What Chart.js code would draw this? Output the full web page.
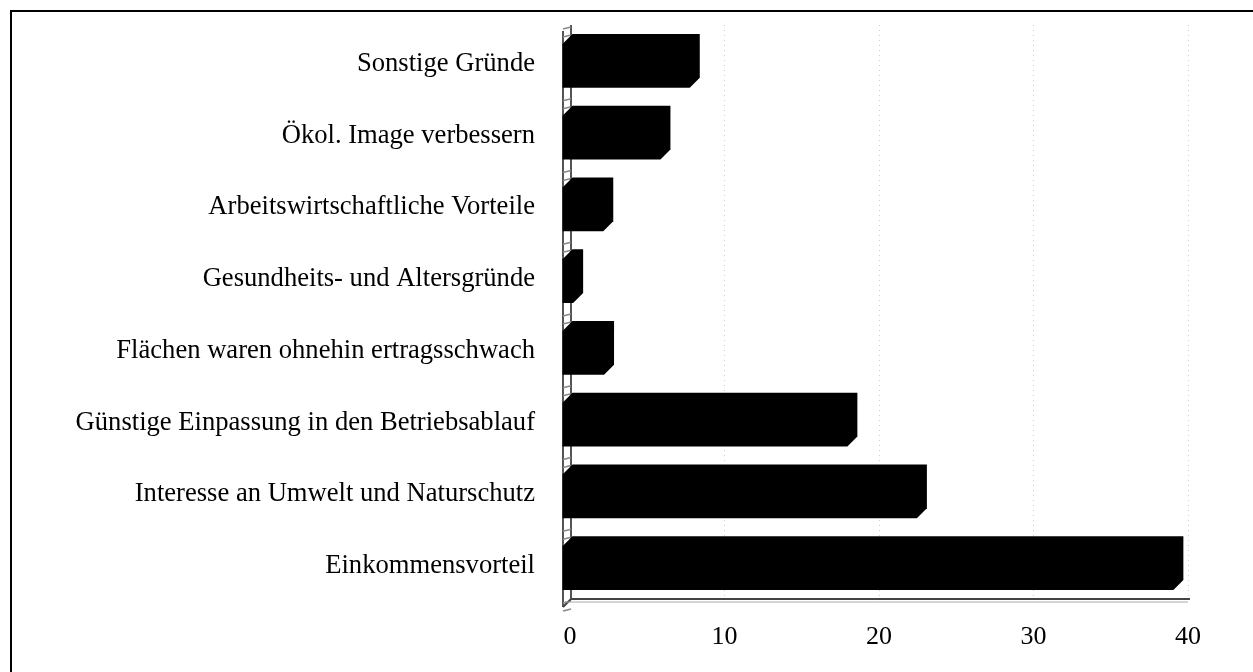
<!DOCTYPE html>
<html lang="de">
<head>
<meta charset="UTF-8">
<title>Gründe</title>
<script src="https://cdn.jsdelivr.net/npm/chart.js"></script>
<style>
    html, body { margin: 0; padding: 0; background: #fff; }
    .wrap { position: relative; width: 1253px; height: 672px; overflow: hidden; }
    .frame { position: absolute; left: 10px; top: 10px; right: -10px; bottom: -10px;
             border-left: 2px solid #000; border-top: 2px solid #000; pointer-events: none; }
    canvas { position: absolute; left: 0; top: 0; }
</style>
</head>
<body>
<div class="wrap">
    <canvas id="chart" width="1253" height="672"></canvas>
    <div class="frame"></div>
</div>
<script>
// data
const categories = [
    'Sonstige Gründe',
    'Ökol. Image verbessern',
    'Arbeitswirtschaftliche Vorteile',
    'Gesundheits- und Altersgründe',
    'Flächen waren ohnehin ertragsschwach',
    'Günstige Einpassung in den Betriebsablauf',
    'Interesse an Umwelt und Naturschutz',
    'Einkommensvorteil'
];
const values = [8.4, 6.5, 2.8, 0.85, 2.85, 18.6, 23.1, 39.7];
const xTicks = [0, 10, 20, 30, 40];

const serif = '"Liberation Serif", "Times New Roman", serif';

// draws the pseudo-3D bars, the left wall and the floor
const bars3d = {
    id: 'bars3d',
    beforeDatasetsDraw(chart) {
        const ctx = chart.ctx;
        const a = chart.chartArea;
        const y = chart.scales.y;
        const step = y.getPixelForValue(1) - y.getPixelForValue(0);
        ctx.save();
        // wall (ladder)
        ctx.strokeStyle = '#555';
        ctx.lineWidth = 2;
        ctx.beginPath();
        ctx.moveTo(a.left - 7, a.top + 6); ctx.lineTo(a.left - 7, a.bottom + 8);
        ctx.moveTo(a.left + 1, a.top); ctx.lineTo(a.left + 1, a.bottom);
        ctx.stroke();
        ctx.strokeStyle = '#888';
        ctx.lineWidth = 1.5;
        for (let i = 0; i <= categories.length; i++) {
            const yy = y.getPixelForValue(i) - step / 2;
            ctx.beginPath();
            ctx.moveTo(a.left - 7, yy + 4); ctx.lineTo(a.left + 1, yy + 2);
            ctx.moveTo(a.left - 7, yy + 12); ctx.lineTo(a.left + 1, yy + 10);
            ctx.stroke();
        }
        // floor
        ctx.strokeStyle = '#444';
        ctx.lineWidth = 2;
        ctx.beginPath();
        ctx.moveTo(a.left - 7, a.bottom + 8);
        ctx.lineTo(a.left + 1, a.bottom);
        ctx.lineTo(a.right + 2, a.bottom);
        ctx.stroke();
        ctx.strokeStyle = '#aaa';
        ctx.lineWidth = 1;
        ctx.beginPath();
        ctx.moveTo(a.left - 5, a.bottom + 3);
        ctx.lineTo(a.right, a.bottom + 3);
        ctx.stroke();
        ctx.restore();
    },
    afterDatasetsDraw(chart) {
        const ctx = chart.ctx;
        const meta = chart.getDatasetMeta(0);
        ctx.save();
        ctx.fillStyle = '#000';
        meta.data.forEach(bar => {
            const p = bar.getProps(['x', 'y', 'base', 'height'], true);
            const top = p.y - p.height / 2;
            const bot = p.y + p.height / 2;
            const left = p.base - 8;
            const right = p.x;
            const c = Math.min(10, (right - left) / 2);
            ctx.beginPath();
            ctx.moveTo(left, top + c);
            ctx.lineTo(left + c, top);
            ctx.lineTo(right, top);
            ctx.lineTo(right, bot - c);
            ctx.lineTo(right - c, bot);
            ctx.lineTo(left, bot);
            ctx.closePath();
            ctx.fill();
        });
        ctx.restore();
    }
};

new Chart(document.getElementById('chart'), {
    type: 'bar',
    data: {
        labels: categories,
        datasets: [{
            data: values,
            backgroundColor: 'rgba(0,0,0,0)',
            barPercentage: 0.75,
            categoryPercentage: 1
        }]
    },
    options: {
        indexAxis: 'y',
        responsive: false,
        animation: false,
        layout: { padding: { left: 0, right: 65, top: 25, bottom: 0 } },
        plugins: { legend: { display: false }, tooltip: { enabled: false } },
        scales: {
            x: {
                min: 0,
                max: 40,
                afterBuildTicks: s => { s.ticks = xTicks.map(v => ({ value: v })); },
                afterFit: s => { s.height = 73; s.paddingTop = 0; },
                border: { display: false, dash: [1, 4] },
                grid: {
                    drawTicks: false,
                    color: ctx => ctx.tick && ctx.tick.value === 0 ? 'rgba(0,0,0,0)' : '#d0d0d0',
                    lineWidth: 1
                },
                ticks: { color: '#000', padding: 23, font: { family: serif, size: 26 } }
            },
            y: {
                afterFit: s => { s.width = 570; s.paddingTop = 0; s.paddingBottom = 0; },
                border: { display: false },
                grid: { display: false, drawTicks: false },
                ticks: { color: '#000', padding: 35, labelOffset: 3, font: { family: serif, size: 26.6 } }
            }
        }
    },
    plugins: [bars3d]
});
</script>
</body>
</html>
